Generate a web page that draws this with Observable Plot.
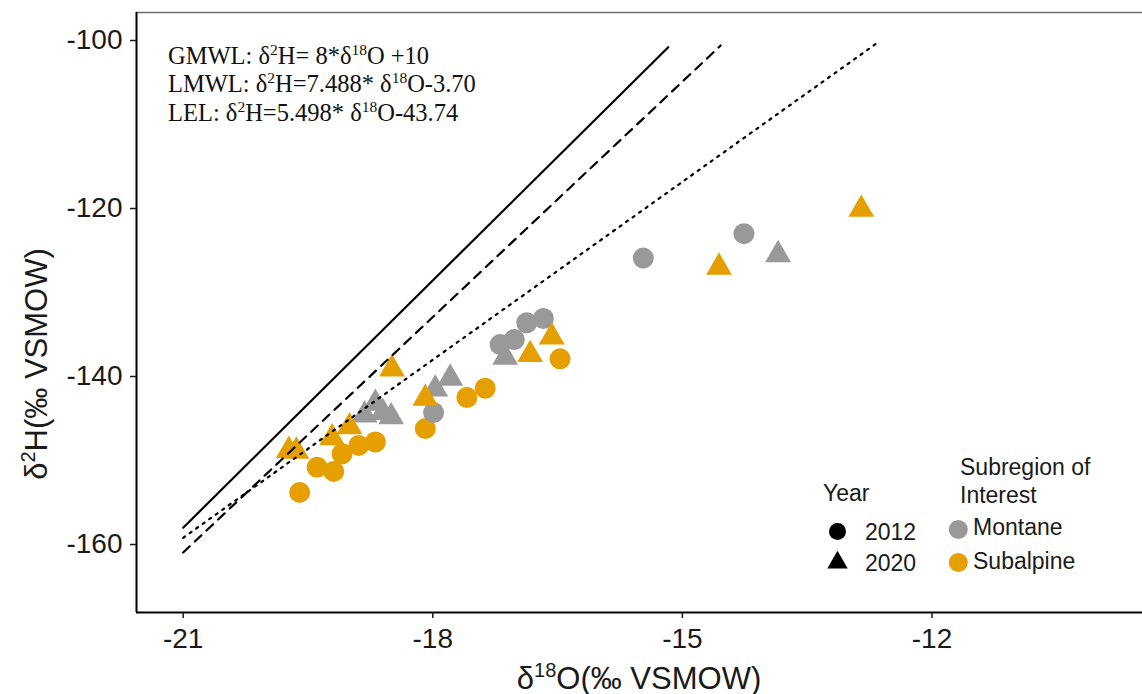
<!DOCTYPE html>
<html>
<head>
<meta charset="utf-8">
<script src="https://cdn.jsdelivr.net/npm/d3@7"></script>
<script src="https://cdn.jsdelivr.net/npm/@observablehq/plot@0.6"></script>
<style>
  html, body { margin: 0; padding: 0; background: #fff; }
  #chart svg { display: block; }
</style>
</head>
<body>
<div id="chart"></div>
<script>
// Stable isotopes of water samples: δ18O and δ2H (‰ VSMOW)
const years = ["2012", "2020"];
const regions = ["Montane", "Subalpine"];
const regionColors = ["#999999", "#E69F00"];

const xTicks = [-21, -18, -15, -12];
const yTicks = [-100, -120, -140, -160];

// Montane, 2020
const montane2020O = [-18.82, -18.69, -18.60, -18.50, -17.97, -17.79, -17.13, -13.85];
const montane2020H = [-144.6, -143.2, -144.3, -144.8, -141.5, -140.2, -137.7, -125.5];
// Subalpine, 2012
const subalpine2012O = [-19.60, -19.39, -19.19, -19.09, -18.89, -18.69, -18.09, -17.59, -17.37, -16.47];
const subalpine2012H = [-153.8, -150.8, -151.3, -149.2, -148.2, -147.8, -146.2, -142.5, -141.4, -137.9];
// Montane, 2012
const montane2012O = [-17.99, -17.19, -17.02, -16.87, -16.67, -15.47, -14.26];
const montane2012H = [-144.3, -136.2, -135.6, -133.6, -133.1, -125.9, -123.0];
// Subalpine, 2020
const subalpine2020O = [-19.73, -19.64, -19.21, -19.00, -18.49, -18.09, -16.83, -16.57, -14.56, -12.85];
const subalpine2020H = [-148.8, -148.9, -147.3, -146.0, -139.1, -142.6, -137.4, -135.3, -127.0, -120.1];

// Water lines: GMWL, LMWL, LEL (start and end of each drawn segment)
const lineNames = ["GMWL", "LMWL", "LEL"];
const lineStartO = [-21, -21, -21];
const lineStartH = [-158.0, -160.95, -159.2];
const lineEndO = [-15.17, -14.54, -12.66];
const lineEndH = [-100.8, -100.6, -100.3];
const lineDashes = [null, "9,7", "2.2,5.8"];

// Equation annotations, split around the superscripts
const eqLabels = [
  ["GMWL: δ", "H= 8*δ", "O +10"],
  ["LMWL: δ", "H=7.488* δ", "O-3.70"],
  ["LEL: δ", "H=5.498* δ", "O-43.74"]
];

const samples = [];
function addGroup(o, h, year, region) {
  o.forEach((v, i) => samples.push({o: v, h: h[i], year, region}));
}
addGroup(montane2020O, montane2020H, "2020", "Montane");
addGroup(subalpine2012O, subalpine2012H, "2012", "Subalpine");
addGroup(montane2012O, montane2012H, "2012", "Montane");
addGroup(subalpine2020O, subalpine2020H, "2020", "Subalpine");

const W = 1142, H = 694;
const mLeft = 136, mRight = 0, mTop = 12, mBottom = 82;
const xDomain = [-21.561, -9.47];
const yDomain = [-168.095, -96.667];
const textColor = "#1a1a1a";

const lineMarks = lineNames.map((name, i) =>
  Plot.line([[lineStartO[i], lineStartH[i]], [lineEndO[i], lineEndH[i]]], {
    stroke: "#000",
    strokeWidth: 2.2,
    strokeDasharray: lineDashes[i] || undefined
  })
);

const plainNumber = d => String(d);

const plot = Plot.plot({
  width: W,
  height: H,
  marginLeft: mLeft,
  marginRight: mRight,
  marginTop: mTop,
  marginBottom: mBottom,
  style: {background: "#fff", fontFamily: "'Liberation Sans', Arial, sans-serif", overflow: "visible"},
  x: {domain: xDomain},
  y: {domain: yDomain},
  r: {type: "identity"},
  symbol: {domain: years, range: ["circle", "triangle"]},
  color: {domain: regions, range: regionColors},
  marks: [
    Plot.dot(samples, {
      x: "o",
      y: "h",
      fill: "region",
      symbol: "year",
      r: d => d.year === "2012" ? 10.5 : 9.6
    }),
    ...lineMarks,
    Plot.ruleY([yDomain[1]], {stroke: "#6e6e6e", strokeWidth: 1.6}),
    Plot.ruleX([xDomain[0]], {stroke: "#000", strokeWidth: 2}),
    Plot.ruleY([yDomain[0]], {stroke: "#000", strokeWidth: 2}),
    Plot.axisX({ticks: xTicks, tickFormat: plainNumber, tickSize: 6, tickPadding: 10, fontSize: 28, label: null, color: textColor, strokeWidth: 1.5}),
    Plot.axisY({ticks: yTicks, tickFormat: plainNumber, tickSize: 6, tickPadding: 8, fontSize: 28, label: null, color: textColor, strokeWidth: 1.5})
  ]
});

document.getElementById("chart").appendChild(plot);

const svg = d3.select(plot);
const sans = "'Liberation Sans', Arial, sans-serif";
const serif = "'Liberation Serif', 'Times New Roman', serif";

// Axis titles with superscripts
function supTitle(g, parts, size, supSize, shift) {
  const t = g.append("text")
    .attr("text-anchor", "middle")
    .attr("font-family", sans)
    .attr("font-size", size)
    .attr("fill", textColor);
  t.append("tspan").text(parts[0]);
  t.append("tspan").attr("font-size", supSize).attr("dy", -shift).text(parts[1]);
  t.append("tspan").attr("dy", shift).text(parts[2]);
  return t;
}

const panelCx = (mLeft + (W - mRight)) / 2;
const panelCy = (mTop + (H - mBottom)) / 2;

supTitle(svg.append("g").attr("transform", `translate(${panelCx},${H - 5})`),
  ["δ", "18", "O(‰ VSMOW)"], 31, 20, 12);
supTitle(svg.append("g").attr("transform", `translate(47,${panelCy + 52}) rotate(-90)`),
  ["δ", "2", "H(‰ VSMOW)"], 31, 20, 12);

// Equation annotations in the upper left of the panel
const eqG = svg.append("g")
  .attr("font-family", serif)
  .attr("font-size", 24.5)
  .attr("text-anchor", "start")
  .attr("fill", "#111");
eqLabels.forEach((parts, i) => {
  const t = eqG.append("text")
    .attr("x", mLeft + 32)
    .attr("y", mTop + 51.5 + i * 28.7);
  t.append("tspan").text(parts[0]);
  t.append("tspan").attr("font-size", 15.5).attr("dy", -9).text("2");
  t.append("tspan").attr("dy", 9).text(parts[1]);
  t.append("tspan").attr("font-size", 15.5).attr("dy", -9).text("18");
  t.append("tspan").attr("dy", 9).text(parts[2]);
});

// Legends: shape by year, colour by subregion
const leg = svg.append("g")
  .attr("font-family", sans)
  .attr("font-size", 23)
  .attr("text-anchor", "start")
  .attr("fill", textColor);

const yearG = leg.append("g").attr("transform", "translate(823,0)");
yearG.append("text").attr("x", 0).attr("y", 501).text("Year");
const yearShapes = [d3.symbolCircle, d3.symbolTriangle];
const yearSizes = [Math.PI * 8.5 * 8.5, 181];
const yearRows = [531.5, 562.5];
years.forEach((yr, i) => {
  yearG.append("path")
    .attr("d", d3.symbol(yearShapes[i], yearSizes[i])())
    .attr("transform", `translate(14.5,${yearRows[i]})`)
    .attr("fill", "#000");
  yearG.append("text").attr("x", 42).attr("y", yearRows[i] + 8.5).text(yr);
});

const regG = leg.append("g").attr("transform", "translate(960,0)");
regG.append("text").attr("x", 0).attr("y", 475).text("Subregion of");
regG.append("text").attr("x", 0).attr("y", 503).text("Interest");
const regRows = [529.5, 562.5];
regions.forEach((rg, i) => {
  regG.append("circle")
    .attr("cx", -1.7)
    .attr("cy", regRows[i])
    .attr("r", 9.5)
    .attr("fill", regionColors[i]);
  regG.append("text").attr("x", 13).attr("y", regRows[i] + 5.5 + i * 1).text(rg);
});
</script>
</body>
</html>
